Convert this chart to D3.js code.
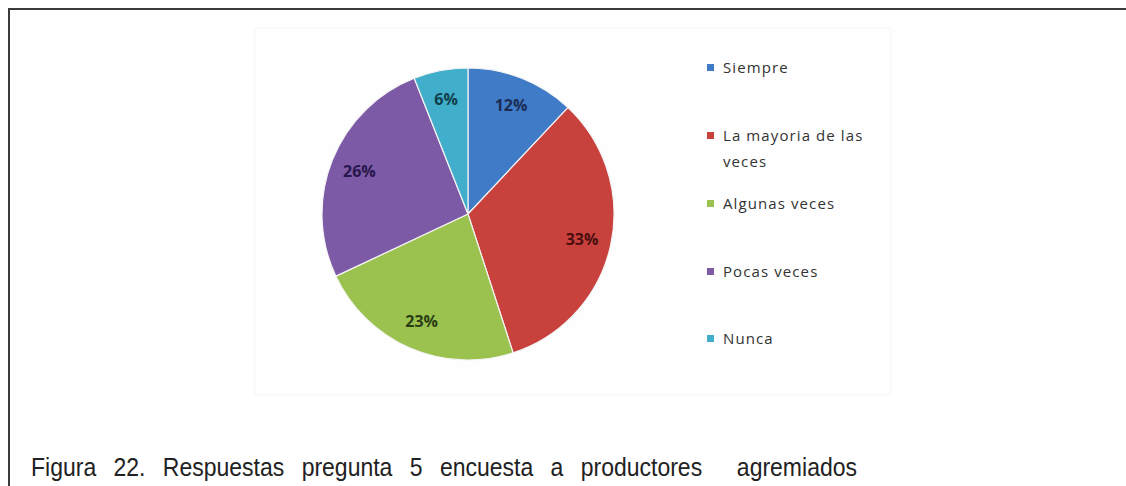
<!DOCTYPE html>
<html>
<head>
<meta charset="utf-8">
<script src="https://cdn.jsdelivr.net/npm/d3@7"></script>
<style>
    html, body { margin: 0; padding: 0; background: #fff; }
    svg { display: block; }
</style>
</head>
<body>
<svg id="chart"></svg>
<script>
// =============================================================================
// DATA
// =============================================================================
const categories = ['Siempre', 'La mayoria de las veces', 'Algunas veces', 'Pocas veces', 'Nunca'];
const values = [12, 33, 23, 26, 6];
const legendLines = [['Siempre'], ['La mayoria de las', 'veces'], ['Algunas veces'], ['Pocas veces'], ['Nunca']];
const caption = 'Figura 22. Respuestas pregunta 5 encuesta a productores  agremiados';

const colors = ['#3f7bc6', '#c8413d', '#9bc24f', '#7c5aa6', '#41aecb'];
const labelColors = ['#1b2c55', '#4a0e0e', '#2a3d14', '#27174a', '#123f4a'];

// =============================================================================
// CHART
// =============================================================================
function renderChart() {
    const W = 1126, H = 486;
    const svg = d3.select('#chart').attr('width', W).attr('height', H);

    // faint box of the pasted image
    svg.append('rect')
        .attr('x', 255).attr('y', 28).attr('width', 636).attr('height', 367)
        .attr('fill', '#fefefe').attr('stroke', '#f6f6f6');

    // frame (top + left only)
    svg.append('path')
        .attr('d', `M9,${H} V9 H${W}`)
        .attr('fill', 'none').attr('stroke', '#3a3a3a').attr('stroke-width', 2);

    // Pie
    const cx = 468, cy = 214, r = 146;
    const pie = d3.pie().sort(null).value(d => d);
    const arcs = pie(values);
    const arc = d3.arc().innerRadius(0).outerRadius(r);
    const labelArc = d3.arc().innerRadius(r * 0.8).outerRadius(r * 0.8);

    const g = svg.append('g').attr('transform', `translate(${cx},${cy})`);
    g.selectAll('path.slice')
        .data(arcs)
        .enter()
        .append('path')
        .attr('class', 'slice')
        .attr('d', arc)
        .attr('fill', (d, i) => colors[i])
        .attr('stroke', '#f4f4f4')
        .attr('stroke-width', 1.2);

    g.selectAll('text.lbl')
        .data(arcs)
        .enter()
        .append('text')
        .attr('class', 'lbl')
        .attr('transform', d => `translate(${labelArc.centroid(d)})`)
        .attr('text-anchor', 'middle')
        .attr('dy', '0.35em')
        .attr('font-family', 'Open Sans')
        .attr('font-weight', 'bold')
        .attr('font-size', '16px')
        .attr('fill', (d, i) => labelColors[i])
        .text(d => `${d.data}%`);

    // Legend
    const legendY = [68, 136, 204, 272, 339];
    const lg = svg.append('g');
    categories.forEach((c, i) => {
        lg.append('rect')
            .attr('x', 707).attr('y', legendY[i] - 4)
            .attr('width', 7).attr('height', 7)
            .attr('fill', colors[i]);
        legendLines[i].forEach((line, j) => {
            lg.append('text')
                .attr('x', 723).attr('y', legendY[i] + j * 26)
                .attr('dy', '0.35em')
                .attr('font-family', 'Open Sans')
                .attr('font-size', '15px')
                .attr('letter-spacing', '1.1px')
                .attr('fill', '#333')
                .text(line);
        });
    });

    // Caption (slightly narrow glyphs, stretched word gaps)
    const sx = 0.92;
    const cap = svg.append('text')
        .attr('transform', `translate(31,476) scale(${sx},1)`)
        .attr('font-family', 'Liberation Sans')
        .attr('font-size', '25px')
        .attr('fill', '#222')
        .style('white-space', 'pre')
        .text(caption);
    const target = 826 / sx;
    const len = cap.node().getComputedTextLength();
    const spaces = (caption.match(/ /g) || []).length;
    cap.attr('word-spacing', `${(target - len) / spaces}px`);
}

renderChart();
</script>
</body>
</html>
